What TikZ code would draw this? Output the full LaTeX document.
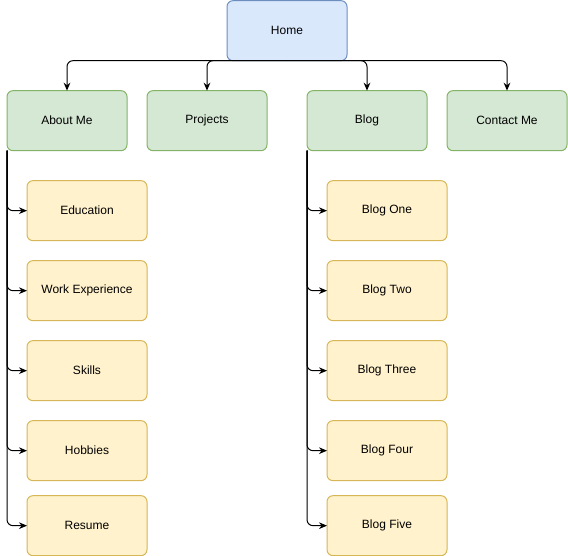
\documentclass[tikz,border=0pt]{standalone}
\usepackage{fontspec}
\setmainfont{Liberation Sans}
\usetikzlibrary{arrows.meta, positioning}

\definecolor{homefill}{HTML}{DAE8FC}
\definecolor{homeline}{HTML}{6C8EBF}
\definecolor{pagefill}{HTML}{D5E8D4}
\definecolor{pageline}{HTML}{82B366}
\definecolor{subfill}{HTML}{FFF2CC}
\definecolor{subline}{HTML}{D6B656}

\begin{document}
\begin{tikzpicture}[
            > = {Stealth[length = 6pt, width = 5pt]}, % arrow head style
            line width = 0.75pt,
            rounded corners = 4.5pt, % bends of the connectors
            font = \fontsize{9pt}{11pt}\selectfont
        ]

        \tikzstyle{every node}=[
            rectangle,
            rounded corners = 4.5pt,
            minimum width = 90pt,
            minimum height = 45pt,
            inner sep = 0pt,
            outer sep = 0pt
        ]
        \tikzstyle{home}=[draw = homeline, fill = homefill]
        \tikzstyle{page}=[draw = pageline, fill = pagefill]
        \tikzstyle{sub}=[draw = subline, fill = subfill]

        \useasboundingbox (0,0) rectangle (426pt,-417pt);

        \node[home] (home) at (215.25pt,-23pt) {Home};

        \node[page] (about) [below left = 22.5pt and 75pt of home] {About Me};
        \node[page] (projects) [right = 15pt of about] {Projects};
        \node[page] (blog) [right = 30pt of projects] {Blog};
        \node[page] (contact) [right = 15pt of blog] {Contact Me};

        \node[sub] (edu) [below = 22.5pt of about, xshift = 15pt] {Education};
        \node[sub] (work) [below = 15pt of edu] {Work Experience};
        \node[sub] (skills) [below = 15pt of work] {Skills};
        \node[sub] (hobbies) [below = 15pt of skills] {Hobbies};
        \node[sub] (resume) [below = 11.25pt of hobbies] {Resume};

        \node[sub] (blog1) [below = 22.5pt of blog, xshift = 15pt] {Blog One};
        \node[sub] (blog2) [below = 15pt of blog1] {Blog Two};
        \node[sub] (blog3) [below = 15pt of blog2] {Blog Three};
        \node[sub] (blog4) [below = 15pt of blog3] {Blog Four};
        \node[sub] (blog5) [below = 11.25pt of blog4] {Blog Five};

        \foreach \page in {about, projects, blog, contact}
            \draw[->] (home.south) -| (\page.north);

        \foreach \item in {edu, work, skills, hobbies, resume}
            \draw[->] (about.south west) |- (\item.west);

        \foreach \item in {blog1, blog2, blog3, blog4, blog5}
            \draw[->] (blog.south west) |- (\item.west);
    \end{tikzpicture}
\end{document}
